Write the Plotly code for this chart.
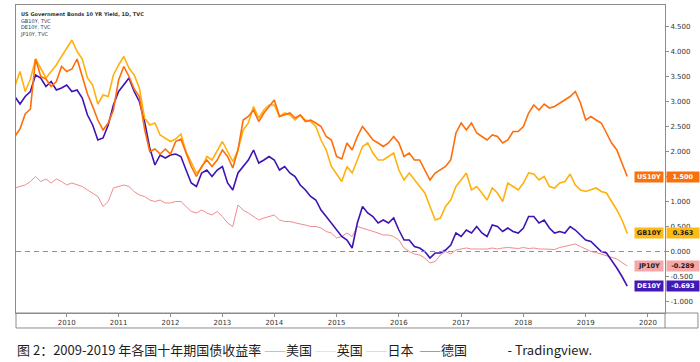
import plotly.graph_objects as go

# ---------------- data ----------------
# one sample per "bar": 10 bars per year for 2009-2013, 12 (monthly) from 2014 on
bar_years = [2009, 2010, 2011, 2012, 2013, 2014, 2015, 2016, 2017, 2018, 2019]
bars_per_year = [10, 10, 10, 10, 10, 12, 12, 12, 12, 12, 12]
tick_labels = ["2010", "2011", "2012", "2013", "2014", "2015", "2016", "2017", "2018", "2019", "2020"]

us10y = [2.3, 2.45, 2.75, 2.85, 3.85, 3.5, 3.45, 3.3, 3.4, 3.7,
         3.6, 3.65, 3.85, 3.5, 3.15, 2.9, 2.63, 2.43, 2.57, 2.83,
         3.43, 3.7, 3.5, 3.25, 3.1, 2.45, 2.0, 2.05, 1.95, 2.05,
         1.95, 2.2, 2.25, 1.97, 1.7, 1.5, 1.7, 1.83, 1.7, 1.83,
         2.03, 1.9, 1.67, 2.03, 2.63, 2.7, 2.83, 2.6, 2.77, 2.9,
         3.03, 2.7, 2.73, 2.77, 2.67, 2.73, 2.6, 2.63, 2.57, 2.5,
         2.3, 2.23, 1.9, 1.85, 2.17, 2.03, 2.3, 2.5, 2.37, 2.23,
         2.17, 2.1, 2.17, 2.3, 2.17, 1.9, 1.97, 1.83, 1.83, 1.63,
         1.43, 1.57, 1.63, 1.7, 1.83, 2.37, 2.57, 2.43, 2.57, 2.37,
         2.3, 2.23, 2.33, 2.3, 2.17, 2.23, 2.4, 2.4, 2.5, 2.77,
         2.93, 2.83, 2.95, 2.87, 2.9, 2.97, 3.03, 3.1, 3.2, 2.97,
         2.63, 2.7, 2.63, 2.57, 2.37, 2.17, 2.03, 1.75, 1.5]

gb10y = [3.3, 3.6, 3.2, 3.45, 3.85, 3.67, 3.47, 3.6, 3.73, 3.9,
         4.07, 4.23, 4.0, 3.85, 3.47, 3.33, 2.95, 3.13, 3.1, 3.53,
         3.73, 3.9, 3.67, 3.53, 3.27, 2.67, 2.53, 2.57, 2.33, 2.27,
         2.2, 2.25, 2.35, 2.0, 1.77, 1.57, 1.67, 1.9, 1.83, 2.03,
         2.2, 2.0, 1.8, 2.03, 2.43, 2.57, 2.9, 2.67, 2.83, 2.93,
         2.93, 2.7, 2.77, 2.73, 2.63, 2.73, 2.63, 2.6, 2.5, 2.23,
         2.03, 1.7, 1.55, 1.4, 1.7, 1.57, 1.83, 2.1, 2.17, 1.97,
         1.83, 1.83, 1.9, 1.97, 1.63, 1.43, 1.57, 1.43, 1.3, 1.17,
         0.9, 0.63, 0.67, 0.9, 1.03, 1.3, 1.43, 1.57, 1.23, 1.3,
         1.17, 1.03, 1.27, 1.17, 1.0, 1.37, 1.3, 1.23, 1.37, 1.57,
         1.55, 1.43, 1.5, 1.3, 1.27, 1.37, 1.4, 1.55, 1.33, 1.23,
         1.2, 1.23, 1.27, 1.2, 1.17, 1.0, 0.83, 0.63, 0.363]

de10y = [3.1, 2.95, 3.1, 3.2, 3.53, 3.47, 3.3, 3.4, 3.23, 3.27,
         3.33, 3.2, 3.23, 3.07, 2.73, 2.53, 2.23, 2.27, 2.53, 2.93,
         3.2, 3.33, 3.47, 3.2, 3.0, 2.6, 2.07, 1.73, 1.93, 1.87,
         1.93, 1.95, 1.9, 1.63, 1.37, 1.3, 1.57, 1.63, 1.5, 1.63,
         1.7, 1.37, 1.23, 1.57, 1.7, 1.83, 2.03, 1.77, 1.83, 1.9,
         1.83, 1.63, 1.7, 1.57, 1.5, 1.33, 1.23, 1.1, 1.03, 0.83,
         0.7, 0.57, 0.45, 0.3, 0.23, 0.07, 0.57, 0.9, 0.77, 0.7,
         0.57, 0.63, 0.57, 0.67, 0.43, 0.23, 0.23, 0.1, 0.07, 0.0,
         -0.13, -0.03, -0.03, 0.03, 0.13, 0.37, 0.3, 0.43, 0.37, 0.5,
         0.37, 0.3, 0.53, 0.5, 0.4, 0.47, 0.4, 0.37, 0.47, 0.7,
         0.7, 0.57, 0.63, 0.47, 0.37, 0.4, 0.37, 0.5, 0.43, 0.33,
         0.23, 0.2, 0.1, 0.0, -0.03, -0.17, -0.33, -0.5, -0.693]

jp10y = [1.27, 1.3, 1.33, 1.4, 1.5, 1.4, 1.45, 1.37, 1.45, 1.4,
         1.33, 1.37, 1.33, 1.3, 1.23, 1.17, 1.1, 0.9, 1.0, 1.27,
         1.3, 1.33, 1.3, 1.2, 1.13, 1.1, 1.03, 1.0, 1.03, 0.97,
         0.97, 1.0, 1.0, 0.9, 0.8, 0.77, 0.83, 0.77, 0.73, 0.8,
         0.7, 0.57, 0.5, 0.93, 0.83, 0.77, 0.7, 0.63, 0.67, 0.7,
         0.73, 0.63, 0.6, 0.6, 0.57, 0.55, 0.53, 0.5, 0.5, 0.47,
         0.4, 0.37, 0.27, 0.3, 0.37, 0.3, 0.5, 0.47, 0.43, 0.4,
         0.37, 0.33, 0.33, 0.3, 0.23, 0.07, 0.0, -0.05, -0.07, -0.13,
         -0.23, -0.2, -0.07, 0.0, -0.05, 0.03, 0.05, 0.07, 0.05, 0.05,
         0.05, 0.05, 0.07, 0.05, 0.07, 0.08, 0.07, 0.06, 0.08, 0.06,
         0.07, 0.05, 0.05, 0.04, 0.04, 0.08, 0.1, 0.13, 0.15, 0.1,
         0.05, 0.0, -0.02, -0.05, -0.08, -0.12, -0.15, -0.22, -0.289]

series_names = ["JP10Y", "DE10Y", "GB10Y", "US10Y"]
series_values = [jp10y, de10y, gb10y, us10y]
header_lines = ["US Government Bonds 10 YR Yield, 1D, TVC", "GB10Y, TVC", "DE10Y, TVC", "JP10Y, TVC"]
y_ticks = [-1.0, -0.5, 0.0, 0.5, 1.0, 1.5, 2.0, 2.5, 3.0, 3.5, 4.0, 4.5]
caption_parts = ["图 2：2009-2019 年各国十年期国债收益率 ", "美国", "英国", "日本 ", "德国", "- Tradingview."]

# ---------------- styles ----------------
line_colors = {"US10Y": "#FF6D0A", "GB10Y": "#FFB10F", "DE10Y": "#3E13B3", "JP10Y": "#F08C8C"}
line_widths = {"US10Y": 1.6, "GB10Y": 1.6, "DE10Y": 1.6, "JP10Y": 1.0}
box_colors = {"US10Y": "#F9700C", "GB10Y": "#FDB914", "DE10Y": "#4219B5", "JP10Y": "#F6A7A7"}
box_text = {"US10Y": "#FFFFFF", "GB10Y": "#1A1A1A", "DE10Y": "#FFFFFF", "JP10Y": "#1A1A1A"}
caption_dash_colors = ["#E9A864", "#F5E09A", "#F4CFA9", "#7A88A6"]
axis_grey = "#8C8C8C"
label_font = "DejaVu Sans"

# x positions of year starts (in bars)
year_starts = []
acc = 0
for n in bars_per_year:
    acc += n
    year_starts.append(acc)

# price-scale labels that sit under a last-value box are hidden (as on the source chart)
last_values = [v[-1] for v in series_values]
y_ticktext = ["" if any(abs(t - lv) < 0.1 for lv in last_values) else "%.3f" % t for t in y_ticks]

fig = go.Figure()
for name, vals in zip(series_names, series_values):
    fig.add_trace(go.Scatter(
        x=list(range(len(vals))), y=vals, mode="lines", name=name,
        line=dict(color=line_colors[name], width=line_widths[name]),
        hoverinfo="skip"))

annotations = []
# header text, top-left
header_html = "<b>" + header_lines[0] + "</b><br>" + "<br>".join(header_lines[1:])
annotations.append(dict(xref="paper", yref="paper", x=0, xshift=2, y=1, yshift=-4,
                        xanchor="left", yanchor="top", align="left", showarrow=False,
                        text=header_html, font=dict(family=label_font, size=5, color="#333")))

# last-value boxes on the price scale
for name, vals in zip(series_names, series_values):
    last = vals[-1]
    annotations.append(dict(xref="paper", yref="y", x=1, y=last, xanchor="right", yanchor="middle",
                            xshift=-1, showarrow=False, text="<b>" + name + "</b>",
                            bgcolor=box_colors[name], borderpad=1, width=26, height=8,
                            font=dict(family=label_font, size=6.5, color=box_text[name])))
    annotations.append(dict(xref="paper", yref="y", x=1, y=last, xanchor="left", yanchor="middle",
                            xshift=1, showarrow=False, text="<b>%.3f</b>" % last,
                            bgcolor=box_colors[name], borderpad=1, width=30, height=8,
                            font=dict(family=label_font, size=6.5, color=box_text[name])))

# caption below chart
dash = "\u00a0——"
cap = (caption_parts[0].rstrip()
       + "<span style='color:%s'>%s</span>%s" % (caption_dash_colors[0], dash, caption_parts[1])
       + "<span style='color:%s'>%s</span>%s" % (caption_dash_colors[1], dash, caption_parts[2])
       + "<span style='color:%s'>%s</span>%s" % (caption_dash_colors[2], dash, caption_parts[3])
       + "<span style='color:%s'>%s</span>%s" % (caption_dash_colors[3], dash, caption_parts[4])
       + "\u3000\u3000\u00a0\u00a0\u00a0\u00a0\u00a0" + caption_parts[5])
annotations.append(dict(xref="paper", yref="paper", x=-0.0015, y=-0.1201, xanchor="left", yanchor="middle",
                        showarrow=False, text=cap,
                        font=dict(family="Noto Sans CJK SC", size=13, color="#1E1E1E")))

shapes = [
    # zero line
    dict(type="line", xref="paper", yref="y", x0=0, x1=1, y0=0, y1=0,
         line=dict(color="#8E8EA8", width=1, dash="5px,4px")),
    # time-scale strip box
    dict(type="rect", xref="paper", yref="paper", x0=0, x1=1.0508, y0=0, y1=-0.0487,
         line=dict(color=axis_grey, width=1)),
    dict(type="line", xref="paper", yref="paper", x0=1, x1=1, y0=0, y1=-0.0487,
         line=dict(color=axis_grey, width=1)),
]

fig.update_layout(
    width=700, height=362, autosize=False,
    margin=dict(l=16, r=35, t=5, b=49),
    paper_bgcolor="white", plot_bgcolor="white",
    showlegend=False, hovermode=False,
    annotations=annotations, shapes=shapes,
    xaxis=dict(range=[0.23, 125.28], tickvals=year_starts, ticktext=tick_labels,
               showgrid=False, zeroline=False, showline=True, linecolor=axis_grey, linewidth=1,
               mirror=True, ticks="outside", ticklen=3, tickcolor=axis_grey,
               tickfont=dict(family=label_font, size=7, color="#333")),
    yaxis=dict(range=[-1.23, 4.93], side="right", tickvals=y_ticks, ticktext=y_ticktext,
               showgrid=False, zeroline=False, showline=True, linecolor=axis_grey, linewidth=1,
               mirror=True, ticks="outside", ticklen=3, tickcolor=axis_grey,
               tickfont=dict(family=label_font, size=7, color="#333")),
)

fig.write_html("out.html", config={"displayModeBar": False},
               post_script="document.body.style.margin='0';document.body.style.padding='0';")
